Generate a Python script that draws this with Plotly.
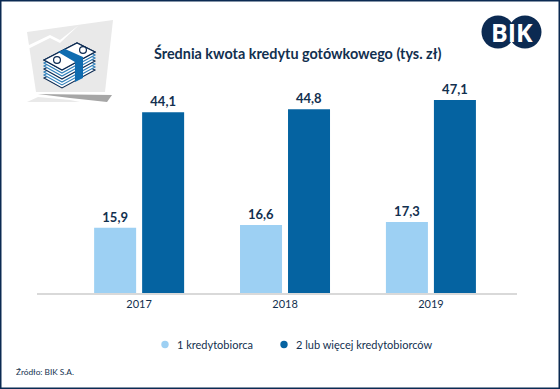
import plotly.graph_objects as go

categories = ["2017", "2018", "2019"]
series_1 = [15.9, 16.6, 17.3]
series_2 = [44.1, 44.8, 47.1]
labels_1 = ["15,9", "16,6", "17,3"]
labels_2 = ["44,1", "44,8", "47,1"]
name_1 = "1 kredytobiorca"
name_2 = "2 lub więcej kredytobiorców"
title = "Średnia kwota kredytu gotówkowego (tys. zł)"
source = "Źródło: BIK S.A."

W, H = 560, 389
NAVY = "#0B2A52"
TXT = "#12304F"
LIGHT = "#9DD0F3"
DARK = "#0563A1"
FONT = "Lato, Carlito, sans-serif"


def px(x):
    return x / W


def py(y):
    return 1 - y / H


def poly(points, fill, line=None, width=1):
    path = "M " + " L ".join(f"{px(x):.4f},{py(y):.4f}" for x, y in points) + " Z"
    return dict(type="path", xref="paper", yref="paper", path=path, fillcolor=fill,
                line=dict(color=line or fill, width=width if line else 0), layer="above")


def circle(cx, cy, r, fill):
    return dict(type="circle", xref="paper", yref="paper", x0=px(cx - r), x1=px(cx + r),
                y0=py(cy + r), y1=py(cy - r), fillcolor=fill, line=dict(width=0), layer="above")


fig = go.Figure()
fig.add_bar(x=categories, y=series_1, marker_color=LIGHT, text=labels_1, name=name_1)
fig.add_bar(x=categories, y=series_2, marker_color=DARK, text=labels_2, name=name_2)
fig.update_traces(textposition="outside", cliponaxis=False, marker_line_width=0,
                  textfont=dict(family=FONT, size=13, color=TXT, weight="bold"), hoverinfo="skip")

shapes = []
# icon backdrop
shapes.append(poly([(27, 32), (113, 20), (105, 92), (36, 92)], "#E9E9E9"))
shapes.append(poly([(27, 46), (50, 35), (60, 40), (79, 25), (60, 43), (50, 38), (28, 49)], "#FFFFFF"))
shapes.append(poly([(38, 94), (112, 95), (107, 102), (70, 98)], "#A6A6A6"))
shapes.append(poly([(27, 102), (38, 97), (70, 100), (80, 102)], "#E9E9E9"))
# stack of notes
for i in range(6, -1, -1):
    dy = i * 3
    col = NAVY if i % 3 == 0 else "#2D7DB8"
    shapes.append(poly([(44, 60 + dy), (77, 43 + dy), (95, 52 + dy), (62, 70 + dy)], "#FFFFFF", col, 1.1))
shapes.append(poly([(44, 60), (77, 43), (95, 52), (62, 70)], "#FFFFFF", NAVY, 1.3))
shapes.append(circle(57, 60, 4, NAVY))
shapes.append(circle(57, 60, 2.8, "#FFFFFF"))
shapes.append(circle(83, 50, 4, NAVY))
shapes.append(circle(83, 50, 2.8, "#FFFFFF"))
shapes.append(poly([(58, 52), (65, 49), (83, 57), (83, 78), (75, 82), (75, 62)], "#0F6CB0"))
# logo
shapes.append(circle(498, 32, 16.5, NAVY))
shapes.append(circle(525, 32, 16.5, NAVY))
# legend markers
shapes.append(circle(165, 344.5, 3.7, LIGHT))
shapes.append(circle(284, 344.5, 3.7, DARK))
# frame
shapes.append(dict(type="rect", xref="paper", yref="paper", x0=px(0.5), x1=px(W - 0.5),
                   y0=py(H - 0.5), y1=py(0.5), line=dict(color=NAVY, width=2), fillcolor="rgba(0,0,0,0)",
                   layer="above"))


def note(text, x, y, anchor, size, color=TXT, family=FONT):
    return dict(text=text, x=px(x), y=py(y), xref="paper", yref="paper", showarrow=False,
                xanchor=anchor, yanchor="middle", font=dict(family=family, size=size, color=color))


annotations = [
    note(f"<b>{title}</b>", 297, 53, "center", 14.4),
    note("<b>BIK</b>", 512, 32, "center", 25, "#FFFFFF", "Open Sans, sans-serif"),
    note(source, 14, 372, "left", 8.3),
    note(name_1, 175, 344.5, "left", 11),
    note(name_2, 294, 344.5, "left", 11),
]

fig.update_layout(
    width=W, height=H, autosize=False,
    margin=dict(l=0, r=0, t=0, b=0),
    paper_bgcolor="white", plot_bgcolor="white",
    barmode="group", bargap=0.342, bargroupgap=0.125,
    font=dict(family=FONT, color=TXT),
    shapes=shapes, annotations=annotations,
    showlegend=False,
    xaxis=dict(domain=[px(37), px(517)], type="category", range=[-0.70, 2.59], categoryorder="array",
               categoryarray=categories, showline=True, linecolor="#D9D9D9", linewidth=2, ticks="",
               showgrid=False, tickfont=dict(family=FONT, size=11, color=TXT), ticklen=0),
    yaxis=dict(domain=[py(293), py(60)], range=[0, 56.83], visible=False, showgrid=False, zeroline=False),
)
fig.write_html("out.html", config=dict(displayModeBar=False),
               post_script="document.documentElement.style.overflow='hidden';document.body.style.margin='0';document.body.style.padding='0';")
